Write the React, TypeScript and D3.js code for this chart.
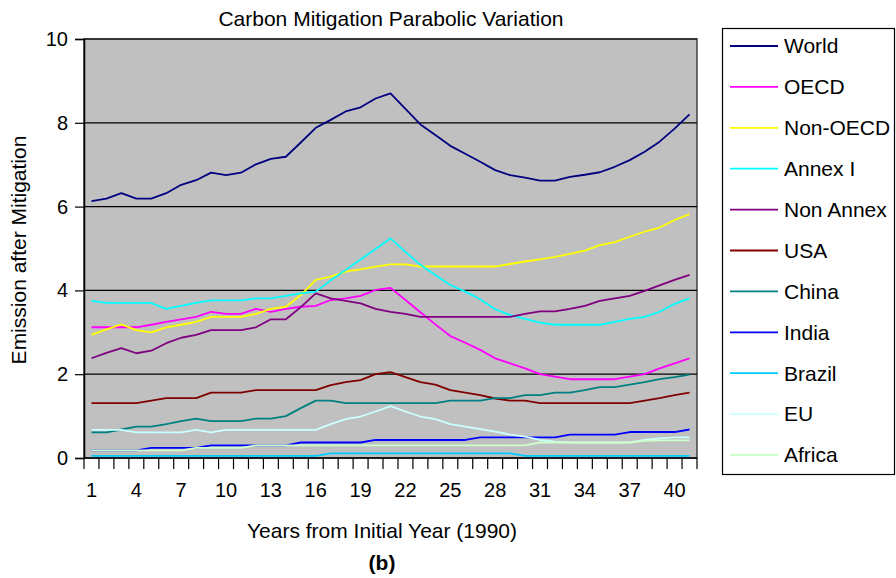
import React, { useRef, useEffect } from 'react';
import * as d3 from 'd3';

const years = d3.range(1, 42);
const tickYears = [1, 4, 7, 10, 13, 16, 19, 22, 25, 28, 31, 34, 37, 40];
const yTicks = [0, 2, 4, 6, 8, 10];

const world = [6.13, 6.19, 6.32, 6.19, 6.19, 6.32, 6.52, 6.63, 6.81, 6.75, 6.81, 7.01, 7.14, 7.19, 7.53, 7.88, 8.07, 8.27, 8.37, 8.58, 8.70, 8.33, 7.96, 7.71, 7.45, 7.26, 7.07, 6.87, 6.75, 6.69, 6.62, 6.62, 6.71, 6.76, 6.82, 6.95, 7.11, 7.31, 7.55, 7.86, 8.20];
const oecd = [3.12, 3.12, 3.12, 3.12, 3.18, 3.25, 3.31, 3.37, 3.49, 3.44, 3.44, 3.56, 3.49, 3.56, 3.61, 3.63, 3.77, 3.81, 3.87, 4.01, 4.06, 3.77, 3.48, 3.19, 2.91, 2.75, 2.58, 2.38, 2.26, 2.14, 2.00, 1.94, 1.88, 1.88, 1.88, 1.88, 1.94, 2.00, 2.14, 2.26, 2.38];
const nonOecd = [2.94, 3.07, 3.19, 3.05, 3.00, 3.12, 3.18, 3.25, 3.37, 3.37, 3.37, 3.44, 3.56, 3.61, 3.89, 4.25, 4.33, 4.45, 4.50, 4.57, 4.62, 4.62, 4.57, 4.57, 4.57, 4.57, 4.57, 4.57, 4.63, 4.69, 4.74, 4.80, 4.87, 4.95, 5.08, 5.15, 5.28, 5.40, 5.50, 5.68, 5.82];
const annexI = [3.75, 3.70, 3.70, 3.70, 3.70, 3.56, 3.63, 3.70, 3.76, 3.76, 3.76, 3.81, 3.81, 3.87, 3.93, 3.97, 4.24, 4.49, 4.74, 4.99, 5.24, 4.92, 4.61, 4.37, 4.13, 3.97, 3.79, 3.55, 3.41, 3.32, 3.23, 3.18, 3.18, 3.18, 3.18, 3.25, 3.32, 3.37, 3.49, 3.68, 3.81];
const nonAnnex = [2.38, 2.51, 2.62, 2.50, 2.56, 2.74, 2.87, 2.94, 3.05, 3.05, 3.05, 3.12, 3.31, 3.31, 3.60, 3.93, 3.81, 3.75, 3.69, 3.56, 3.49, 3.44, 3.37, 3.37, 3.37, 3.37, 3.37, 3.37, 3.37, 3.44, 3.50, 3.50, 3.56, 3.63, 3.75, 3.81, 3.87, 3.99, 4.12, 4.25, 4.37];
const usa = [1.31, 1.31, 1.31, 1.31, 1.37, 1.43, 1.43, 1.43, 1.56, 1.56, 1.56, 1.62, 1.62, 1.62, 1.62, 1.62, 1.74, 1.81, 1.86, 2.00, 2.05, 1.93, 1.81, 1.75, 1.62, 1.56, 1.50, 1.42, 1.37, 1.37, 1.31, 1.31, 1.31, 1.31, 1.31, 1.31, 1.31, 1.37, 1.43, 1.50, 1.56];
const china = [0.61, 0.61, 0.68, 0.75, 0.75, 0.81, 0.88, 0.94, 0.88, 0.88, 0.88, 0.94, 0.94, 1.00, 1.19, 1.37, 1.37, 1.31, 1.31, 1.31, 1.31, 1.31, 1.31, 1.31, 1.37, 1.37, 1.37, 1.43, 1.43, 1.50, 1.50, 1.56, 1.56, 1.62, 1.69, 1.69, 1.75, 1.81, 1.88, 1.93, 1.99];
const india = [0.18, 0.18, 0.18, 0.18, 0.24, 0.24, 0.24, 0.24, 0.30, 0.30, 0.30, 0.30, 0.30, 0.30, 0.37, 0.37, 0.37, 0.37, 0.37, 0.43, 0.43, 0.43, 0.43, 0.43, 0.43, 0.43, 0.49, 0.49, 0.49, 0.49, 0.49, 0.49, 0.56, 0.56, 0.56, 0.56, 0.62, 0.62, 0.62, 0.62, 0.68];
const brazil = [0.05, 0.05, 0.05, 0.05, 0.05, 0.05, 0.05, 0.05, 0.05, 0.05, 0.05, 0.05, 0.05, 0.05, 0.05, 0.05, 0.11, 0.11, 0.11, 0.11, 0.11, 0.11, 0.11, 0.11, 0.11, 0.11, 0.11, 0.11, 0.11, 0.05, 0.05, 0.05, 0.05, 0.05, 0.05, 0.05, 0.05, 0.05, 0.05, 0.05, 0.05];
const eu = [0.67, 0.67, 0.67, 0.61, 0.61, 0.61, 0.61, 0.67, 0.61, 0.67, 0.67, 0.67, 0.67, 0.67, 0.67, 0.67, 0.81, 0.93, 0.99, 1.11, 1.24, 1.11, 0.99, 0.93, 0.81, 0.75, 0.69, 0.63, 0.56, 0.51, 0.43, 0.39, 0.37, 0.37, 0.37, 0.37, 0.37, 0.43, 0.47, 0.49, 0.49];
const africa = [0.18, 0.18, 0.18, 0.18, 0.18, 0.18, 0.18, 0.24, 0.24, 0.24, 0.24, 0.30, 0.30, 0.30, 0.30, 0.30, 0.30, 0.30, 0.30, 0.30, 0.30, 0.30, 0.30, 0.30, 0.30, 0.30, 0.30, 0.30, 0.30, 0.30, 0.37, 0.37, 0.37, 0.37, 0.37, 0.37, 0.37, 0.41, 0.42, 0.42, 0.42];

const seriesNames = ['World', 'OECD', 'Non-OECD', 'Annex I', 'Non Annex', 'USA', 'China', 'India', 'Brazil', 'EU', 'Africa'];
const seriesValues = [world, oecd, nonOecd, annexI, nonAnnex, usa, china, india, brazil, eu, africa];
const seriesColors = ['#000080', '#FF00FF', '#FFFF00', '#00FFFF', '#800080', '#800000', '#008080', '#0000FF', '#00CCFF', '#CCFFFF', '#CCFFCC'];

const FONT = 'Liberation Sans, Arial, sans-serif';

const App = () => {
    const svgRef = useRef(null);

    useEffect(() => {
        const svg = d3.select(svgRef.current);
        svg.selectAll('*').remove();

        const plot = { left: 84, top: 39, right: 697, bottom: 458 };

        const x = d3.scaleBand<number>()
            .domain(years)
            .range([plot.left, plot.right]);
        const cx = (d: number) => (x(d) as number) + x.bandwidth() / 2;

        const y = d3.scaleLinear()
            .domain([0, 10])
            .range([plot.bottom, plot.top]);

        // plot background
        svg.append('rect')
            .attr('x', plot.left).attr('y', plot.top)
            .attr('width', plot.right - plot.left).attr('height', plot.bottom - plot.top)
            .attr('fill', '#C0C0C0')
            .attr('stroke', '#404040').attr('stroke-width', 1.5);

        // gridlines
        svg.append('g').selectAll('line')
            .data(yTicks.filter(t => t > 0))
            .enter().append('line')
            .attr('x1', plot.left).attr('x2', plot.right)
            .attr('y1', d => y(d)).attr('y2', d => y(d))
            .attr('stroke', '#000').attr('stroke-width', 1.2);

        // y axis
        const yAxis = svg.append('g')
            .attr('transform', `translate(${plot.left},0)`)
            .call(d3.axisLeft(y).tickValues(yTicks).tickSize(9).tickPadding(7).tickFormat(d3.format('d')));
        yAxis.select('.domain').attr('stroke', '#000').attr('stroke-width', 1.5);
        yAxis.selectAll('.tick line').attr('stroke', '#000').attr('stroke-width', 1.2);
        yAxis.selectAll('text').attr('font-family', FONT).attr('font-size', 20).attr('fill', '#000');

        // x axis line
        svg.append('line')
            .attr('x1', plot.left).attr('x2', plot.right)
            .attr('y1', plot.bottom).attr('y2', plot.bottom)
            .attr('stroke', '#000').attr('stroke-width', 1.5);

        // category boundary ticks
        const bounds = years.map(d => x(d) as number).concat([plot.right]);
        svg.append('g').selectAll('line')
            .data(bounds)
            .enter().append('line')
            .attr('x1', d => d).attr('x2', d => d)
            .attr('y1', plot.bottom).attr('y2', plot.bottom + 11)
            .attr('stroke', '#000').attr('stroke-width', 1.2);

        svg.append('g').selectAll('text')
            .data(tickYears)
            .enter().append('text')
            .attr('x', d => cx(d))
            .attr('y', 497)
            .attr('text-anchor', 'middle')
            .attr('font-family', FONT).attr('font-size', 20)
            .text(d => d);

        // series lines
        const line = d3.line<number>()
            .x((_, i) => cx(years[i]))
            .y(d => y(d));

        svg.append('g').selectAll('path')
            .data(seriesValues)
            .enter().append('path')
            .attr('d', d => line(d))
            .attr('fill', 'none')
            .attr('stroke', (_, i) => seriesColors[i])
            .attr('stroke-width', 1.8)
            .attr('stroke-linejoin', 'round');

        // legend
        const legend = svg.append('g');
        legend.append('rect')
            .attr('x', 722.5).attr('y', 28.5)
            .attr('width', 172).attr('height', 446)
            .attr('fill', '#fff').attr('stroke', '#000').attr('stroke-width', 1.2);

        const ly = d3.scalePoint<string>()
            .domain(seriesNames)
            .range([46, 455]);

        const items = legend.selectAll('g.item')
            .data(seriesNames)
            .enter().append('g')
            .attr('class', 'item')
            .attr('transform', d => `translate(0,${ly(d)})`);
        items.append('line')
            .attr('x1', 730).attr('x2', 778)
            .attr('stroke', (_, i) => seriesColors[i])
            .attr('stroke-width', 1.8);
        items.append('text')
            .attr('x', 784).attr('dy', '0.35em')
            .attr('font-family', FONT).attr('font-size', 21)
            .text(d => d);

        // titles
        svg.append('text')
            .attr('x', 391).attr('y', 26)
            .attr('text-anchor', 'middle')
            .attr('font-family', FONT).attr('font-size', 21)
            .text('Carbon Mitigation Parabolic Variation');

        svg.append('text')
            .attr('x', 382).attr('y', 538)
            .attr('text-anchor', 'middle')
            .attr('font-family', FONT).attr('font-size', 21)
            .text('Years from Initial Year (1990)');

        svg.append('text')
            .attr('transform', 'translate(26,250) rotate(-90)')
            .attr('text-anchor', 'middle')
            .attr('font-family', FONT).attr('font-size', 21)
            .text('Emission after Mitigation');

        svg.append('text')
            .attr('x', 382).attr('y', 570)
            .attr('text-anchor', 'middle')
            .attr('font-family', FONT).attr('font-size', 21).attr('font-weight', 'bold')
            .text('(b)');
    }, []);

    return (
        <svg ref={svgRef} width="896" height="578" style={{ position: 'absolute', left: 0, top: 0, background: '#fff' }} />
    );
};

export default App;
